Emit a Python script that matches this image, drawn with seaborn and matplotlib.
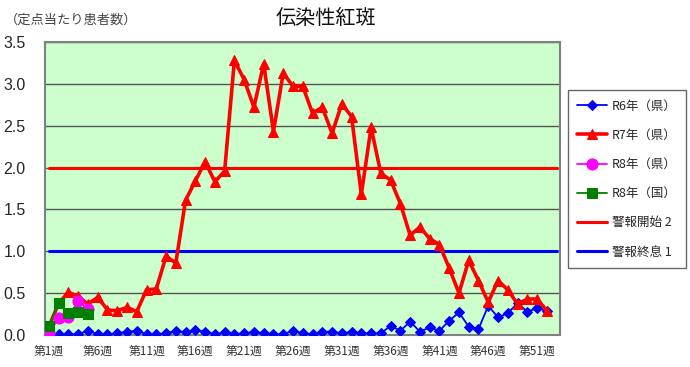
import matplotlib
matplotlib.use("Agg")
import matplotlib.pyplot as plt
import seaborn as sns
import pandas as pd
import numpy as np
from matplotlib.ticker import MultipleLocator, FixedLocator

sns.set_style("white")
plt.rcParams['font.family'] = ['Noto Sans CJK JP', 'DejaVu Sans']

weeks = list(range(1, 53))
r6_pref = [0.00, 0.01, 0.01, 0.01, 0.05, 0.01, 0.01, 0.02, 0.04, 0.05,
           0.01, 0.01, 0.02, 0.05, 0.03, 0.06, 0.04, 0.01, 0.03, 0.01,
           0.02, 0.04, 0.02, 0.01, 0.01, 0.05, 0.02, 0.01, 0.04, 0.04,
           0.02, 0.04, 0.02, 0.02, 0.02, 0.11, 0.05, 0.16, 0.04, 0.09,
           0.05, 0.17, 0.27, 0.10, 0.07, 0.35, 0.21, 0.26, 0.38, 0.28,
           0.32, 0.29]
r7_pref = [0.10, 0.38, 0.51, 0.46, 0.37, 0.45, 0.30, 0.29, 0.33, 0.28,
           0.54, 0.55, 0.94, 0.86, 1.61, 1.84, 2.07, 1.83, 1.96, 3.28,
           3.05, 2.72, 3.24, 2.43, 3.13, 2.97, 2.97, 2.65, 2.72, 2.41,
           2.76, 2.61, 1.68, 2.48, 1.93, 1.85, 1.57, 1.19, 1.29, 1.15,
           1.08, 0.80, 0.50, 0.89, 0.65, 0.39, 0.65, 0.54, 0.37, 0.43,
           0.43, 0.29]
r8_weeks = [1, 2, 3, 4, 5]
r8_pref = [0.02, 0.20, 0.21, 0.41, 0.31]
r8_nat = [0.11, 0.38, 0.26, 0.27, 0.25]
alert_weeks = [1, 53]
alert_start = [2, 2]
alert_end = [1, 1]

labels = ["R6年（県）", "R7年（県）", "R8年（県）", "R8年（国）", "警報開始 2", "警報終息 1"]
xtick_weeks = [1, 6, 11, 16, 21, 26, 31, 36, 41, 46, 51]
xtick_labels = [f"第{w}週" for w in xtick_weeks]
yticks = [0.0, 0.5, 1.0, 1.5, 2.0, 2.5, 3.0, 3.5]

fig = plt.figure(figsize=(6.9, 3.67), dpi=100)
ax = fig.add_axes([45/690, 1-335/367, (560-45)/690, (335-42)/367])
ax.set_facecolor("#CCFFCC")

df_r6 = pd.DataFrame({"week": weeks, "v": r6_pref})
df_r7 = pd.DataFrame({"week": weeks, "v": r7_pref})
df_r8p = pd.DataFrame({"week": r8_weeks, "v": r8_pref})
df_r8n = pd.DataFrame({"week": r8_weeks, "v": r8_nat})
df_as = pd.DataFrame({"week": alert_weeks, "v": alert_start})
df_ae = pd.DataFrame({"week": alert_weeks, "v": alert_end})

sns.lineplot(data=df_as, x="week", y="v", ax=ax, color="#FF0000", lw=2.2, label=labels[4], zorder=2)
sns.lineplot(data=df_ae, x="week", y="v", ax=ax, color="#0000FF", lw=2.2, label=labels[5], zorder=2)
sns.lineplot(data=df_r6, x="week", y="v", ax=ax, color="#0000FF", lw=1.3, marker="D",
             markersize=5, markeredgecolor="#0000FF", label=labels[0], zorder=3)
sns.lineplot(data=df_r7, x="week", y="v", ax=ax, color="#FF0000", lw=2.6, marker="^",
             markersize=7, markeredgecolor="#FF0000", label=labels[1], zorder=4)
sns.lineplot(data=df_r8p, x="week", y="v", ax=ax, color="#FF00FF", lw=1.3, marker="o",
             markersize=8, markeredgecolor="#FF00FF", label=labels[2], zorder=5)
sns.lineplot(data=df_r8n, x="week", y="v", ax=ax, color="#008000", lw=1.3, marker="s",
             markersize=7, markeredgecolor="#008000", label=labels[3], zorder=6)

ax.set_xlim(0.6, 53.35)
ax.set_ylim(0, 3.5)
ax.set_yticks(yticks)
ax.set_yticklabels([f"{v:.1f}" for v in yticks], fontfamily="Liberation Sans", fontsize=11.5)
ax.set_xticks(xtick_weeks)
ax.set_xticklabels(xtick_labels, fontsize=8.5, color="#333333")
ax.xaxis.set_minor_locator(FixedLocator(list(range(1, 54))))
ax.tick_params(axis="x", which="both", direction="in", length=3, color="#555555", pad=7)
ax.tick_params(axis="y", length=0, pad=14)
ax.set_xlabel("")
ax.set_ylabel("")
ax.grid(axis="y", color="#555555", lw=1)
ax.grid(axis="x", visible=False)
ax.set_axisbelow(True)
for s in ax.spines.values():
    s.set_color("#808080")
    s.set_linewidth(1.5)

h, l = ax.get_legend_handles_labels()
order = [l.index(x) for x in labels]
ax.get_legend().remove()
leg = fig.legend([h[i] for i in order], [l[i] for i in order], loc="upper left",
                 bbox_to_anchor=(568/690, 1-90/367), borderaxespad=0, fontsize=9,
                 frameon=True, fancybox=False, edgecolor="#404040", handlelength=2.4,
                 handletextpad=0.35, labelspacing=1.3, borderpad=0.75)
leg.get_frame().set_linewidth(1)

fig.text(326/690, 1-18/367, "伝染性紅斑", ha="center", va="center", fontsize=14.5, color="#111111")
fig.text(5/690, 1-20/367, "（定点当たり患者数）", ha="left", va="center", fontsize=9.5, color="#444444")

fig.savefig("out.png", dpi=100)
